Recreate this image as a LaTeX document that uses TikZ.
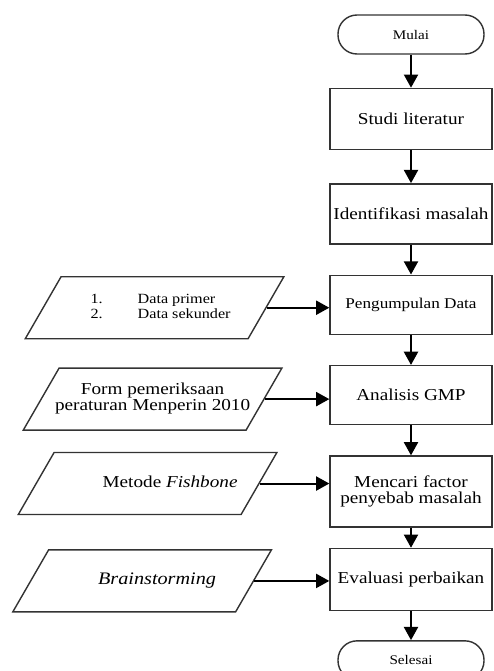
\documentclass[tikz,border=0pt]{standalone}
\usepackage{fontspec}
\setmainfont{Liberation Serif}[FakeStretch=1.15]
\usetikzlibrary{positioning,shapes.geometric,arrows.meta}

% fixed size text block inside the input shapes
\newcommand{\intext}[2][0cm]{\parbox[c][1.0cm][c]{3.5cm}{\makebox[3.5cm][c]{\hspace*{#1}\begin{tabular}{@{}c@{}}#2\end{tabular}}}}

\begin{document}
\begin{tikzpicture}[
  font=\fontsize{9.5}{8.8}\selectfont,
  box/.style={draw=black!80, line width=0.8pt, fill=white, minimum width=3.24cm, minimum height=1.22cm, align=center, inner sep=1pt},
  terminal/.style={draw=black!80, line width=0.8pt, fill=white, rounded corners=0.38cm, minimum width=2.92cm, minimum height=0.78cm, font=\fontsize{7.5}{8}\selectfont},
  datain/.style={draw=black!80, line width=0.8pt, fill=white, trapezium, trapezium left angle=60, trapezium right angle=120, inner sep=0.12cm},
  flow/.style={-{Triangle[length=7.5pt,width=8pt]}, line width=1.1pt}
]
\useasboundingbox (0,0) rectangle (9.86,-13.42);

% Start
\node[terminal] (mulai) at (8.22,-0.69) {Mulai};

% Main process
\node[box, below=0.66cm of mulai] (studi) {Studi literatur};
\node[box, below=0.66cm of studi, minimum height=1.2cm] (identifikasi) {Identifikasi masalah};
\node[box, below=0.6cm of identifikasi, minimum height=1.18cm, font=\fontsize{8.5}{9}\selectfont] (pengumpulan) {Pengumpulan Data};
\node[box, below=0.6cm of pengumpulan, minimum height=1.18cm] (analisis) {Analisis GMP};
\node[box, below=0.6cm of analisis, minimum height=1.42cm] (mencari) {Mencari factor\\penyebab masalah};
\node[box, below=0.4cm of mencari, minimum height=1.24cm] (evaluasi) {Evaluasi perbaikan};

% End
\node[terminal, below=0.58cm of evaluasi] (selesai) {Selesai};

% Inputs
\node[datain, left=1.25cm of pengumpulan, yshift=-0.06cm, font=\fontsize{8}{8.5}\selectfont] (data) {\intext[0.24cm]{\begin{tabular}{@{}l@{\hspace{0.7cm}}l@{}}1. & Data primer\\ 2. & Data sekunder\end{tabular}}};
\node[datain, left=1.29cm of analisis, yshift=-0.08cm] (form) {\intext{Form pemeriksaan\\peraturan Menperin 2010}};
\node[datain, left=1.39cm of mencari, yshift=0.16cm] (fishbone) {\intext[0.9cm]{Metode \textit{Fishbone}}};
\node[datain, left=1.5cm of evaluasi, yshift=-0.03cm, font=\fontsize{10}{10}\selectfont] (brain) {\intext[0.6cm]{\textit{Brainstorming}}};

% Arrows
\draw[flow] (mulai) -- (studi);
\draw[flow] (studi) -- (identifikasi);
\draw[flow] (identifikasi) -- (pengumpulan);
\draw[flow] (pengumpulan) -- (analisis);
\draw[flow] (analisis) -- (mencari);
\draw[flow] (mencari) -- (evaluasi);
\draw[flow] (evaluasi) -- (selesai);

\draw[flow] (data.east) -- (data.east -| pengumpulan.west);
\draw[flow] (form.east) -- (form.east -| analisis.west);
\draw[flow] (fishbone.east) -- (fishbone.east -| mencari.west);
\draw[flow] (brain.east) -- (brain.east -| evaluasi.west);

\end{tikzpicture}
\end{document}
